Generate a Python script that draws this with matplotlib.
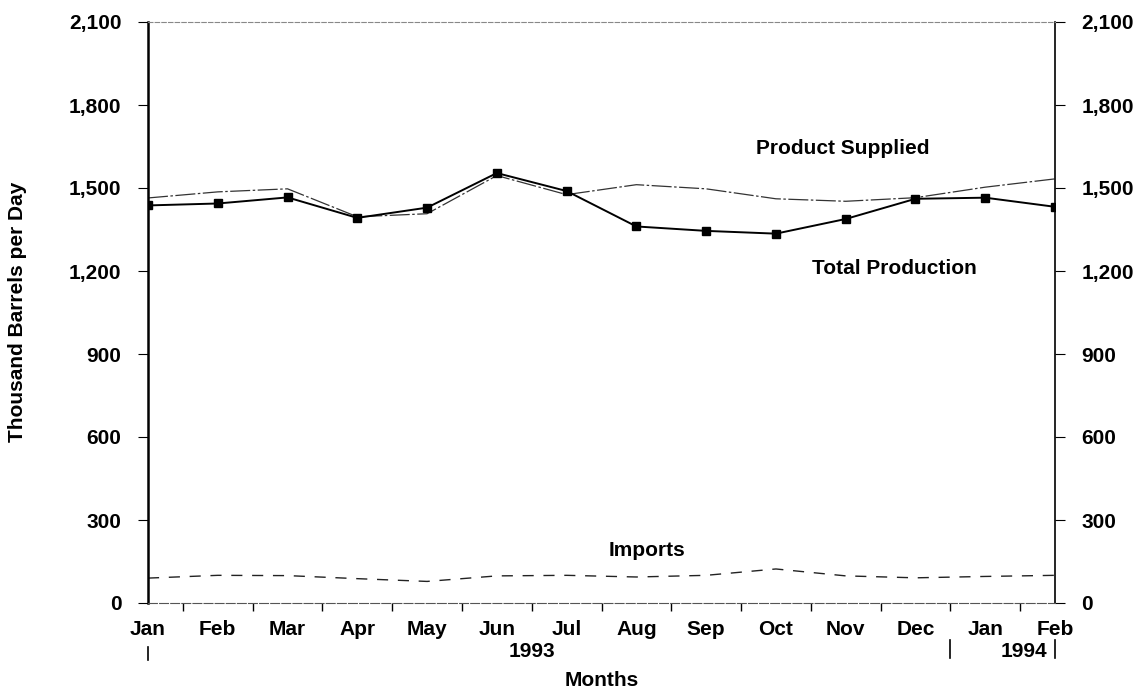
import matplotlib.pyplot as plt
import numpy as np

plt.rcParams["font.family"] = ["Liberation Sans", "DejaVu Sans"]
plt.rcParams["font.weight"] = "bold"

months = ["Jan", "Feb", "Mar", "Apr", "May", "Jun", "Jul",
          "Aug", "Sep", "Oct", "Nov", "Dec", "Jan", "Feb"]
total_production = [1437, 1444, 1466, 1392, 1429, 1554, 1489,
                    1361, 1345, 1335, 1388, 1461, 1465, 1432]
product_supplied = [1464, 1486, 1497, 1396, 1407, 1545, 1476,
                    1512, 1497, 1461, 1452, 1465, 1503, 1533]
imports = [90, 100, 99, 88, 78, 98, 100, 94, 100, 123, 98, 91, 96, 100]

x = np.arange(len(months))

fig = plt.figure(figsize=(11.36, 6.91), dpi=100)
ax = fig.add_axes([148 / 1136, 1 - 603 / 691, (1055 - 148) / 1136, (603 - 22) / 691])

ax.plot(x, product_supplied, color="#333333", lw=0.9, ls=(0, (16, 2, 2, 2)))
ax.plot(x, total_production, color="black", lw=1.4, marker="s", ms=5.5)
ax.plot(x, imports, color="#222222", lw=1.0, ls=(0, (8, 7)))

ax.set_xlim(0, 13)
ax.set_ylim(0, 2100)
yt = np.arange(0, 2101, 300)
ax.set_yticks(yt)
ax.set_yticklabels([f"{v:,}" for v in yt], fontsize=15)
ax.tick_params(axis="y", direction="out", length=7, width=0.8, pad=12,
               right=True, labelright=True)

ax.set_xticks(x)
ax.set_xticklabels(months, fontsize=15)
ax.set_xticks(x[:-1] + 0.5, minor=True)
ax.tick_params(axis="x", which="major", length=0, pad=12)
ax.tick_params(axis="x", which="minor", direction="out", length=6, width=1.0)

ax.spines["left"].set_linewidth(1.8)
ax.spines["right"].set_linewidth(1.2)
ax.spines["top"].set_linestyle((0, (4, 2)))
ax.spines["top"].set_color("#888888")
ax.spines["top"].set_linewidth(0.8)
ax.spines["bottom"].set_linestyle((0, (8, 2)))
ax.spines["bottom"].set_color("#555555")
ax.spines["bottom"].set_linewidth(0.8)

ax.text(9.96, 1641, "Product Supplied", fontsize=15, ha="center", va="center")
ax.text(10.7, 1210, "Total Production", fontsize=15, ha="center", va="center")
ax.text(7.15, 190, "Imports", fontsize=15, ha="center", va="center")

fig.text(18 / 1136, 1 - 312 / 691, "Thousand Barrels per Day", fontsize=15,
         rotation=90, ha="center", va="center")

# year labels and separators under the axis
tr = ax.get_xaxis_transform()
ax.text(5.5, -0.083, "1993", transform=tr, fontsize=15, ha="center", va="center")
ax.text(12.55, -0.083, "1994", transform=tr, fontsize=15, ha="center", va="center")
ax.plot([0, 0], [-0.076, -0.098], transform=tr, color="black", lw=1.2, clip_on=False)
for xs in [11.5, 13]:
    ax.plot([xs, xs], [-0.064, -0.095], transform=tr, color="black", lw=1.2,
            clip_on=False)
ax.text(6.5, -0.134, "Months", transform=tr, fontsize=15, ha="center", va="center")

fig.savefig("out.png", dpi=100)
